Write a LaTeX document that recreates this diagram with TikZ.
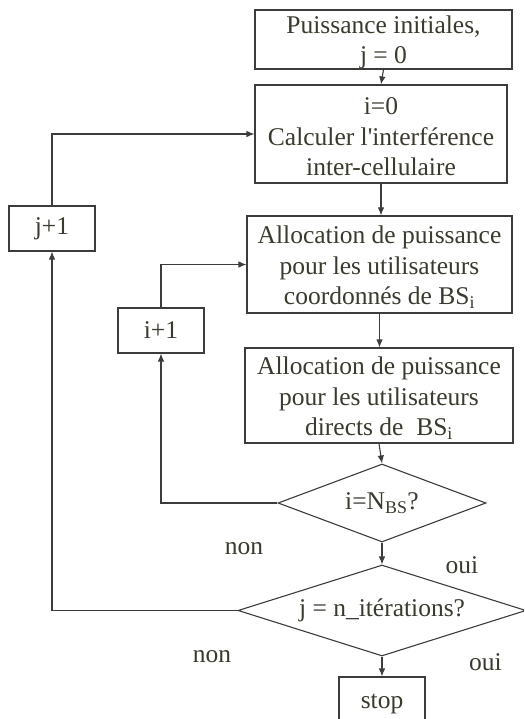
\documentclass[tikz,border=0pt]{standalone}
\usepackage{fontspec}
\setmainfont{Liberation Serif}
\usetikzlibrary{arrows.meta,shapes.geometric}
\definecolor{ink}{RGB}{58,58,46}
\definecolor{edge}{RGB}{60,60,60}
% strut that lowers multi-line block text a little
\newcommand{\tstrut}{\rule{0pt}{23pt}}
\tikzset{
  every node/.style={text=ink, font=\fontsize{25.5}{30.5}\selectfont},
  block/.style={draw=edge, line width=1.1pt, rectangle, align=center, inner sep=0pt},
  test/.style={draw=edge, line width=1.1pt, diamond, inner sep=0pt, align=center},
  flow/.style={draw=edge, line width=1.1pt, -{Latex[length=8pt,width=6.5pt]}},
  tag/.style={anchor=base, inner sep=0pt}
}
\begin{document}
\begin{tikzpicture}[x=1pt, y=1pt]
\clip (0,-719) rectangle (524,0);
\fill[white] (0,-719) rectangle (524,0);

% process blocks
\node[block, minimum width=257pt, minimum height=59pt] (init) at (383.5,-39.5)
  {\tstrut Puissance initiales,\\ j = 0};
\node[block, minimum width=252pt, minimum height=98pt] (interf) at (381,-134)
  {\tstrut i=0\\ Calculer l\textquotesingle interférence\\ inter-cellulaire};
\node[block, minimum width=265pt, minimum height=97pt] (coord) at (379.5,-264.5)
  {\tstrut Allocation de puissance\\ pour les utilisateurs\\ coordonnés de BS\textsubscript{i}};
\node[block, minimum width=268pt, minimum height=95pt] (direct) at (379,-395.5)
  {\tstrut Allocation de puissance\\ pour les utilisateurs\\ directs de~~BS\textsubscript{i}};
\node[block, minimum width=86pt, minimum height=45pt] (jinc) at (52,-228.5) {j+1};
\node[block, minimum width=86pt, minimum height=45pt] (iinc) at (161,-330.5) {i+1};

% decisions
\node[test, aspect=2.67, minimum width=208pt, minimum height=78pt] (itest) at (382,-503)
  {i=N\textsubscript{BS}?};
\node[test, aspect=3.16, minimum width=288pt, minimum height=91pt] (jtest) at (382,-610.5)
  {j = n\_itérations?};
\node[block, minimum width=86pt, minimum height=54pt] (stop) at (382,-704) {stop};

% branch labels
\node[tag] (non1) at (244,-554) {non};
\node[tag] (oui1) at (462,-573) {oui};
\node[tag] (non2) at (212,-662) {non};
\node[tag] (oui2) at (485.5,-670) {oui};

% main flow
\draw[flow] (init.south) -- (interf.north);
\draw[flow] (interf.south) -- (interf.south |- coord.north);
\draw[flow] (coord.south) -- (coord.south |- direct.north);
\draw[flow] (direct.south) -- (itest.north);
\draw[flow] (itest.south) -- (jtest.north);
\draw[flow] (jtest.south) -- (stop.north);

% inner loop over i
\draw[flow] (itest.west) -- (iinc.south |- itest.west) -- (iinc.south);
\draw[flow] (iinc.north) -- (iinc.north |- coord.west) -- (coord.west);

% outer loop over j
\draw[flow] (jtest.west) -- (jinc.south |- jtest.west) -- (jinc.south);
\draw[flow] (jinc.north) -- (jinc.north |- interf.west) -- (interf.west);
\end{tikzpicture}
\end{document}
